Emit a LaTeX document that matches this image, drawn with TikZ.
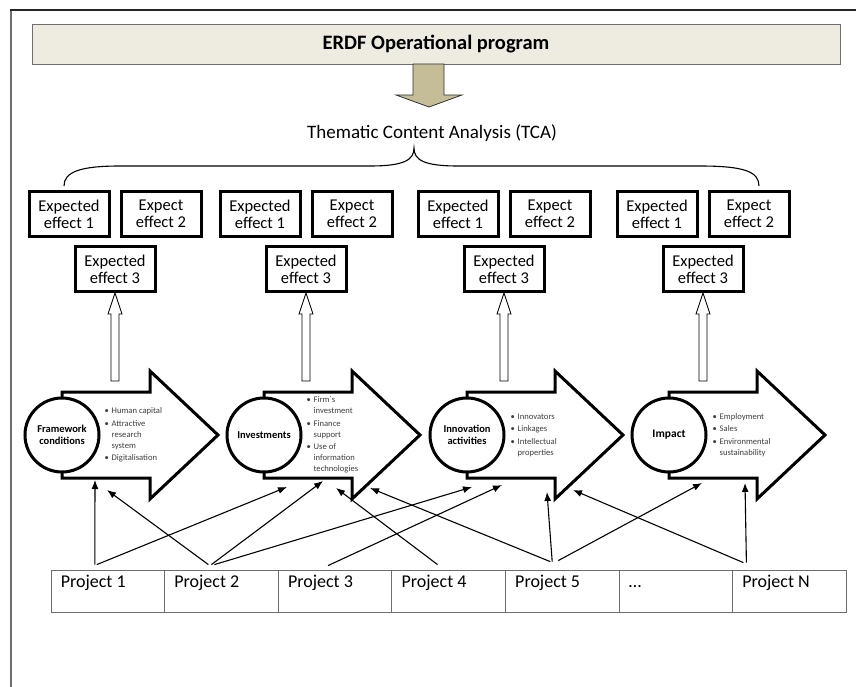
\documentclass[tikz,border=0pt]{standalone}
\usepackage{fontspec}
\setmainfont{Carlito}
\usetikzlibrary{arrows.meta,calc,positioning}
\definecolor{bannerfill}{HTML}{EEECE1}
\definecolor{arrowfill}{HTML}{C4BD97}
\definecolor{linegray}{HTML}{6E6E6E}
\definecolor{textgray}{HTML}{3F3F3F}
\tikzset{
        banner/.style = {draw=linegray, fill=bannerfill, line width=0.9pt,
            minimum width=808, minimum height=40,
            font=\fontsize{20.5}{22}\selectfont\bfseries},
        effect/.style = {draw, line width=3pt, align=center,
            minimum width=80, minimum height=45, inner sep=0pt,
            font=\fontsize{16.5}{17}\selectfont},
        stage/.style = {draw, circle, fill=white, line width=3pt,
            minimum size=74, inner sep=0pt, align=center,
            font=\fontsize{10.5}{12}\selectfont\bfseries},
        bullets/.style = {align=left, inner sep=0pt, text=textgray,
            font=\fontsize{8.6}{11}\selectfont},
        bigarrow/.style = {draw, line width=3pt, fill=white, line join=miter},
        hollow/.style = {draw, line width=0.9pt, fill=white},
        downarrow/.style = {draw=black!80, line width=0.8pt, fill=arrowfill},
        brace/.style = {draw, line width=1.1pt},
        project/.style = {draw=linegray, line width=0.8pt, minimum width=113.6,
            minimum height=42, inner sep=0pt,
            label={[font=\fontsize{18}{20}\selectfont, anchor=base west,
                inner sep=0pt, xshift=10pt, yshift=-18pt]north west:#1}},
        link/.style = {-{Latex[length=9pt,width=7pt]}, line width=1.1pt},
    }
\newcommand{\blt}{\makebox[7pt][l]{\textbullet}}
\newcommand{\cnt}{\hspace*{7pt}}

\begin{document}
\begin{tikzpicture}[x=1pt,y=-1pt]
    \useasboundingbox (0,0) rectangle (856,687);
    % frame of the page
    \draw[linegray, line width=1.8pt] (11,687) -- (11,10);
    \draw[black!85, line width=1.2pt] (10,10) -- (856,10);

    % programme and TCA
    \node[banner] (erdf) at (436,44) {ERDF Operational program};
    \draw[downarrow] (413,64) -- (444,64) -- (444,95) -- (462,95) -- (429,107)
        -- (396,95) -- (413,95) -- cycle;
    \node[font=\fontsize{19}{21}\selectfont] (tca) at (432,133)
        {Thematic Content Analysis (TCA)};
    \draw[brace] (64,186) .. controls (64,172) and (80,166) .. (120,166)
        -- (370,166) .. controls (404,166) and (414,160) .. (414,148)
        .. controls (414,160) and (424,166) .. (458,166)
        -- (700,166) .. controls (745,166) and (759,172) .. (759,186);

    % expected effects
    \foreach \g/\gx in {1/115, 2/306, 3/504, 4/703} {
        \node[effect] (ea\g) at (\gx-46,214) {Expected\\effect 1};
        \node[effect] (eb\g) at (\gx+46,214) {Expect\\effect 2};
        \node[effect] (ec\g) at (\gx,269) {Expected\\effect 3};
        \draw[hollow] (ec\g.south) -- ++(7,21) -- ++(-3,0) -- ++(0,67)
            -- ++(-8,0) -- ++(0,-67) -- ++(-3,0) -- cycle;
    }

    % stages
    \foreach \n/\cx in {1/62, 2/264, 3/467, 4/669} {
        \draw[bigarrow] (\cx,392) -- ++(88,0) -- ++(0,-21) -- (\cx+156,435)
            -- (\cx+88,499) -- ++(0,-21) -- (\cx,478) -- cycle;
    }
    \node[stage] (c1) at (62,435) {Framework\\conditions};
    \node[stage] (c2) at (264,435) {Investments};
    \node[stage] (c3) at (467,435) {Innovation\\activities};
    \node[stage, font=\fontsize{11.5}{13}\selectfont\bfseries] (c4) at (669,435) {Impact};

    \node[bullets, right=4pt of c1] (b1) {\blt Human capital\\[1.5pt]
        \blt Attractive\\ \cnt research\\ \cnt system\\[1.5pt] \blt Digitalisation};
    \node[bullets, right=4pt of c2] (b2) {\blt Firm´s\\ \cnt investment\\[1.5pt]
        \blt Finance\\ \cnt support\\[1.5pt] \blt Use of\\ \cnt information\\ \cnt technologies};
    \node[bullets, right=5pt of c3] (b3) {\blt Innovators\\[1.5pt] \blt Linkages\\[1.5pt]
        \blt Intellectual\\ \cnt properties};
    \node[bullets, right=5pt of c4] (b4) {\blt Employment\\[1.5pt] \blt Sales\\[1.5pt]
        \blt Environmental\\ \cnt sustainability};

    % projects
    \foreach \i/\t in {1/Project 1, 2/Project 2, 3/Project 3, 4/Project 4,
                       5/Project 5, 6/{\dots}, 7/Project N} {
        \node[project={\t}] (p\i) at ({51+113.6*(\i-0.5)},591) {};
    }

    % links from projects to stages
    \draw[link] ($(p1.north)+(-13,-5)$) -- ($(c1)+(33,45)$);
    \draw[link] ($(p1.north)+(-11,-5)$) -- ($(c2)+(23,52)$);
    \draw[link] ($(p2.north)+(-13,-5)$) -- ($(c1)+(45,55)$);
    \draw[link] ($(p2.north)+(-10,-5)$) -- ($(c2)+(59,46)$);
    \draw[link] ($(p2.north)+(-7,-5)$) -- ($(c3)+(5,52)$);
    \draw[link] ($(p3.north)+(-7,-4)$) -- ($(c3)+(35,50)$);
    \draw[link] ($(p4.north)+(-11,-5)$) -- ($(c2)+(72,53)$);
    \draw[link] ($(p5.north)+(-12,-8)$) -- ($(c2)+(106,53)$);
    \draw[link] ($(p5.north)+(-10,-8)$) -- ($(c3)+(80,57)$);
    \draw[link] ($(p5.north)+(-4,-9)$) -- ($(c4)+(33,48)$);
    \draw[link] ($(p7.north)+(-46,-7)$) -- ($(c3)+(106,55)$);
    \draw[link] ($(p7.north)+(-43,-7)$) -- ($(c4)+(76,48)$);
\end{tikzpicture}
\end{document}
